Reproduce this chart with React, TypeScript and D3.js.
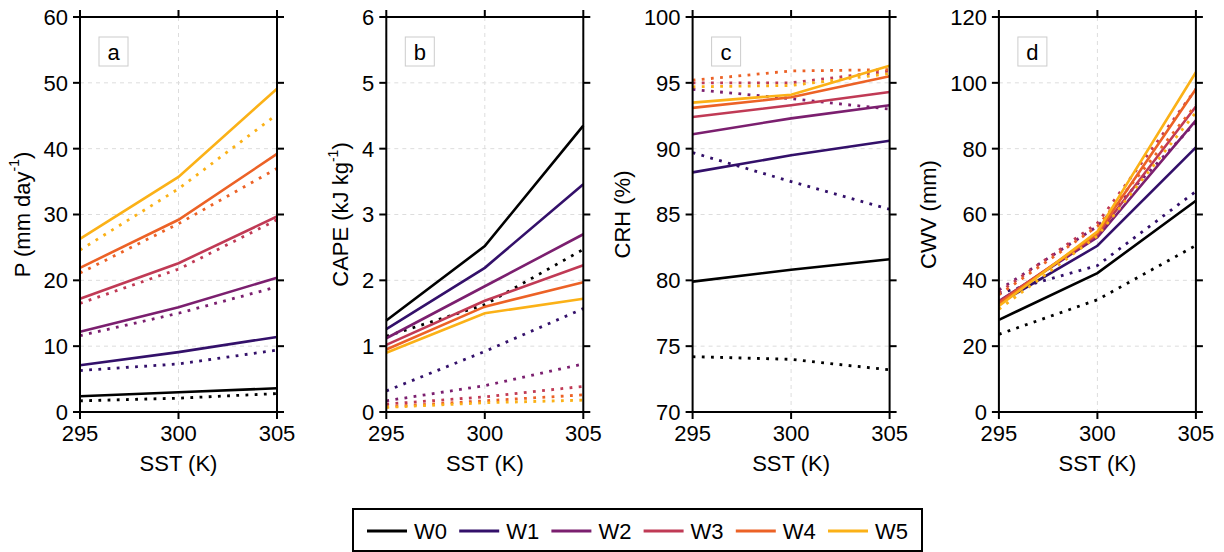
import React from "react";
import * as d3 from "d3";

// SST values shared by all panels
const sst = [295, 300, 305];
const names = ["W0", "W1", "W2", "W3", "W4", "W5"];
const colors = ["#000000", "#33106a", "#7b1f6f", "#c03a55", "#ec6226", "#fbb117"];

// a: precipitation (mm/day)
const pSolid = [
  [2.4, 3.0, 3.6],
  [7.1, 9.1, 11.4],
  [12.2, 15.9, 20.4],
  [17.2, 22.6, 29.7],
  [21.9, 29.2, 39.2],
  [26.3, 35.7, 49.1],
];
const pDotted = [
  [1.7, 2.1, 2.8],
  [6.3, 7.3, 9.4],
  [11.6, 15.0, 19.0],
  [16.5, 21.7, 29.2],
  [21.1, 28.6, 37.0],
  [24.6, 33.9, 45.2],
];

// b: CAPE (kJ/kg)
const capeSolid = [
  [1.39, 2.52, 4.35],
  [1.26, 2.19, 3.46],
  [1.12, 1.91, 2.7],
  [1.02, 1.69, 2.23],
  [0.95, 1.6, 1.97],
  [0.9, 1.5, 1.72],
];
const capeDotted = [
  [1.15, 1.63, 2.47],
  [0.32, 0.92, 1.57],
  [0.17, 0.4, 0.73],
  [0.12, 0.23, 0.39],
  [0.08, 0.17, 0.26],
  [0.07, 0.14, 0.18],
];

// c: column relative humidity (%)
const crhSolid = [
  [79.9, 80.8, 81.6],
  [88.2, 89.5, 90.6],
  [91.1, 92.3, 93.3],
  [92.4, 93.3, 94.3],
  [93.1, 93.9, 95.5],
  [93.5, 94.1, 96.3],
];
const crhDotted = [
  [74.2, 74.0, 73.2],
  [89.7, 87.5, 85.4],
  [94.5, 93.8, 93.0],
  [95.0, 95.0, 95.9],
  [95.2, 95.9, 96.0],
  [94.7, 94.8, 95.7],
];

// d: column water vapour (mm)
const cwvSolid = [
  [28.0, 42.2, 64.2],
  [33.0, 50.5, 80.4],
  [33.7, 53.1, 88.6],
  [33.5, 53.8, 92.8],
  [33.0, 54.3, 98.1],
  [32.2, 54.8, 103.2],
];
const cwvDotted = [
  [23.6, 34.1, 50.6],
  [36.0, 44.5, 67.0],
  [37.1, 56.4, 88.0],
  [36.3, 57.4, 98.1],
  [35.6, 56.4, 93.3],
  [31.2, 53.5, 91.0],
];

const panels = [
  { letter: "a", label: "P (mm day", sup: "-1", tail: ")", domain: [0, 60], ticks: d3.range(0, 61, 10), solid: pSolid, dotted: pDotted, titleOff: 58 },
  { letter: "b", label: "CAPE (kJ kg", sup: "-1", tail: ")", domain: [0, 6], ticks: d3.range(0, 7, 1), solid: capeSolid, dotted: capeDotted, titleOff: 46 },
  { letter: "c", label: "CRH (%)", sup: "", tail: "", domain: [70, 100], ticks: d3.range(70, 101, 5), solid: crhSolid, dotted: crhDotted, titleOff: 71 },
  { letter: "d", label: "CWV (mm)", sup: "", tail: "", domain: [0, 120], ticks: d3.range(0, 121, 20), solid: cwvSolid, dotted: cwvDotted, titleOff: 71 },
];

const W = 1224;
const H = 552;
const top = 17;
const bottom = 412;
const pw = 197;
const firstLeft = 80;
const step = 306.3;
const font = "'Liberation Sans', Arial, Helvetica, sans-serif";
const fs = 22;
const tickLen = 7;

const Panel = ({ p, i }) => {
  const left = firstLeft + i * step;
  const x = d3.scaleLinear().domain([295, 305]).range([left, left + pw]);
  const y = d3.scaleLinear().domain(p.domain).range([bottom, top]);
  const line = d3
    .line<number>()
    .x((d, k) => x(sst[k]))
    .y((d) => y(d));
  const titleX = left - p.titleOff;
  const midY = (top + bottom) / 2;

  return (
    <g>
      {/* grid */}
      {p.ticks.map((t) => (
        <line key={"gy" + t} x1={left} x2={left + pw} y1={y(t)} y2={y(t)} stroke="#dddddd" strokeWidth={1} strokeDasharray="4 4" />
      ))}
      {sst.map((t) => (
        <line key={"gx" + t} x1={x(t)} x2={x(t)} y1={top} y2={bottom} stroke="#dddddd" strokeWidth={1} strokeDasharray="4 4" />
      ))}

      {/* series */}
      {names.map((n, k) => (
        <g key={n}>
          <path d={line(p.solid[k]) || ""} fill="none" stroke={colors[k]} strokeWidth={2.6} />
          <path d={line(p.dotted[k]) || ""} fill="none" stroke={colors[k]} strokeWidth={2.8} strokeDasharray="2.8 6.4" />
        </g>
      ))}

      {/* frame */}
      <rect x={left} y={top} width={pw} height={bottom - top} fill="none" stroke="#000" strokeWidth={2} />

      {/* y ticks */}
      {p.ticks.map((t) => (
        <g key={"ty" + t}>
          <line x1={left - tickLen} x2={left} y1={y(t)} y2={y(t)} stroke="#000" strokeWidth={2} />
          <line x1={left + pw} x2={left + pw + tickLen} y1={y(t)} y2={y(t)} stroke="#000" strokeWidth={2} />
          <text x={left - 12} y={y(t)} dy="0.36em" textAnchor="end" fontSize={fs} fontFamily={font}>
            {t}
          </text>
        </g>
      ))}

      {/* x ticks */}
      {sst.map((t) => (
        <g key={"tx" + t}>
          <line x1={x(t)} x2={x(t)} y1={top - tickLen} y2={top} stroke="#000" strokeWidth={2} />
          <line x1={x(t)} x2={x(t)} y1={bottom} y2={bottom + tickLen} stroke="#000" strokeWidth={2} />
          <text x={x(t)} y={441} textAnchor="middle" fontSize={fs} fontFamily={font}>
            {t}
          </text>
        </g>
      ))}

      <text x={left + pw / 2} y={471} textAnchor="middle" fontSize={fs} fontFamily={font}>
        SST (K)
      </text>

      <text transform={`translate(${titleX},${midY}) rotate(-90)`} dy="0.36em" textAnchor="middle" fontSize={fs} fontFamily={font}>
        {p.label}
        {p.sup && (
          <tspan fontSize={14} dy="-0.75em">
            {p.sup}
          </tspan>
        )}
        {p.tail && (
          <tspan dy={p.sup ? "0.48em" : 0}>{p.tail}</tspan>
        )}
      </text>

      {/* panel letter */}
      <rect x={left + 19} y={37} width={29} height={29} fill="#fff" stroke="#cccccc" strokeWidth={1} />
      <text x={left + 33.5} y={52} dy="0.36em" textAnchor="middle" fontSize={fs} fontFamily={font}>
        {p.letter}
      </text>
    </g>
  );
};

const Legend = () => {
  const lx = 353;
  const ly = 509;
  const lw = 569;
  const lh = 42;
  const itemStep = 92.2;
  const cy = ly + lh / 2 + 1;
  return (
    <g>
      <rect x={lx} y={ly} width={lw} height={lh} fill="#fff" stroke="#000" strokeWidth={2} />
      {names.map((n, k) => {
        const sx = 367 + k * itemStep;
        return (
          <g key={n}>
            <line x1={sx} x2={sx + 40} y1={cy} y2={cy} stroke={colors[k]} strokeWidth={3} />
            <text x={sx + 47} y={cy} dy="0.36em" fontSize={fs} fontFamily={font}>
              {n}
            </text>
          </g>
        );
      })}
    </g>
  );
};

export default function App() {
  return (
    <svg width={W} height={H} style={{ position: "absolute", left: 0, top: 0, background: "#fff" }}>
      {panels.map((p, i) => (
        <Panel key={p.letter} p={p} i={i} />
      ))}
      <Legend />
    </svg>
  );
}
